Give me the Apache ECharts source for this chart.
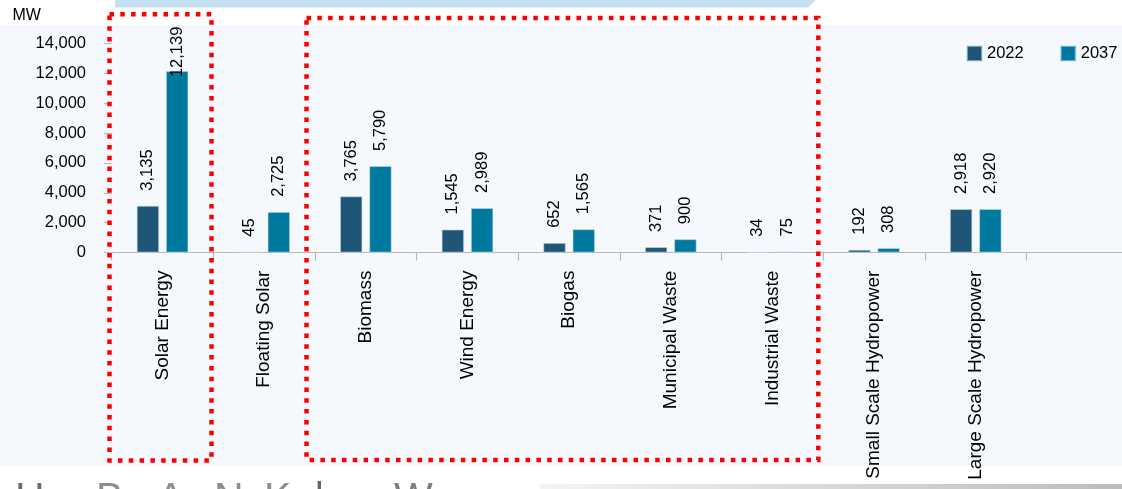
<!DOCTYPE html>
<html>
<head>
<meta charset="utf-8">
<script src="https://cdn.jsdelivr.net/npm/echarts@6/dist/echarts.min.js"></script>
<style>
  html, body { margin: 0; padding: 0; background: #ffffff; }
  #chart { width: 1122px; height: 489px; }
</style>
</head>
<body>
<div id="chart"></div>
<script>
// Installed renewable capacity by technology, MW
const categories = ['Solar Energy', 'Floating Solar', 'Biomass', 'Wind Energy', 'Biogas',
  'Municipal Waste', 'Industrial Waste', 'Small Scale Hydropower', 'Large Scale Hydropower', ''];
const values2022 = [3135, 45, 3765, 1545, 652, 371, 34, 192, 2918, null];
const values2037 = [12139, 2725, 5790, 2989, 1565, 900, 75, 308, 2920, null];
const seriesNames = ['2022', '2037'];
const yTicks = { min: 0, max: 14000, interval: 2000 };
const unitLabel = 'MW';
const footerLetters = ['H', 'B', 'A', 'N', 'K', '|', 'W'];

const FONT = '"Liberation Sans", Arial, sans-serif';
const fmt = v => (v == null ? '' : Number(v).toLocaleString('en-US'));

const chart = echarts.init(document.getElementById('chart'), null, { renderer: 'canvas' });

// Label settings shared by both series; the tallest bar keeps its label inside the plot
const barLabel = {
  show: true, position: 'top', rotate: 90, align: 'left', verticalAlign: 'middle',
  distance: 15, color: '#000', fontSize: 16.5, fontFamily: FONT,
  formatter: p => fmt(p.value)
};
function toData(arr) {
  const peak = Math.max(...arr.filter(v => v != null));
  return arr.map(v => (v === peak && v > 10000) ? { value: v, label: { distance: -6 } } : v);
}

const footerX = [15, 96, 157, 214, 264, 314, 394];
const footerColors = ['#6c6c6c', '#8e8e8e', '#8e8e8e', '#8e8e8e', '#8e8e8e', '#666666', '#7e7e7e'];

// Dotted highlight frames
function dottedFrame(x1, y1, x2, y2) {
  return {
    type: 'rect', z: 100, silent: true,
    shape: { x: x1, y: y1, width: x2 - x1, height: y2 - y1 },
    style: { fill: 'none', stroke: '#ff0000', lineWidth: 4.5, lineDash: [4.5, 6.3], lineCap: 'butt' }
  };
}

const option = {
  backgroundColor: '#ffffff',
  animation: false,
  textStyle: { fontFamily: FONT },
  legend: {
    data: seriesNames,
    orient: 'horizontal',
    left: 966, top: 45, padding: 0,
    itemWidth: 15, itemHeight: 15, itemGap: 36,
    icon: 'rect',
    textStyle: { color: '#000', fontSize: 16.5, fontFamily: FONT }
  },
  grid: { left: 111.7, top: 43.3, width: 1016.5, height: 209.3, outerBoundsMode: 'none', containLabel: false },
  xAxis: {
    type: 'category',
    data: categories,
    axisLine: { show: true, lineStyle: { color: '#b9b9b9', width: 1.2 } },
    axisTick: { show: true, length: 8, lineStyle: { color: '#b9b9b9', width: 1.2 } },
    axisLabel: { interval: 0, rotate: 90, margin: 18, color: '#000', fontSize: 19, fontFamily: FONT }
  },
  yAxis: {
    type: 'value',
    min: yTicks.min, max: yTicks.max, interval: yTicks.interval,
    axisLine: { show: false },
    axisTick: { show: true, length: 8, lineStyle: { color: '#b9b9b9', width: 1.2 } },
    splitLine: { show: false },
    axisLabel: { margin: 25.7, color: '#000', fontSize: 16.5, fontFamily: FONT, formatter: v => fmt(v) }
  },
  series: [
    {
      name: seriesNames[0], type: 'bar', data: toData(values2022),
      barWidth: 22.5, barGap: '30%',
      itemStyle: { color: '#1f5577', borderColor: 'rgba(200,220,235,0.55)', borderWidth: 1 },
      label: barLabel
    },
    {
      name: seriesNames[1], type: 'bar', data: toData(values2037),
      barWidth: 22.5, barGap: '30%',
      itemStyle: { color: '#00799e', borderColor: 'rgba(200,220,235,0.55)', borderWidth: 1 },
      label: barLabel
    }
  ],
  graphic: [
    // pale panel behind the plot
    { type: 'rect', z: -10, silent: true, shape: { x: 0, y: 25, width: 1122, height: 441 }, style: { fill: '#f5f9fd' } },
    // header strip
    { type: 'polygon', z: -10, silent: true,
      shape: { points: [[115, 0], [816, 0], [808, 7.4], [115, 7.4]] }, style: { fill: '#c4e0f1' } },
    // footer rule
    { type: 'rect', z: -10, silent: true, shape: { x: 540, y: 484, width: 582, height: 5 },
      style: { fill: new echarts.graphic.LinearGradient(0, 0, 1, 0, [
        { offset: 0, color: '#f4f4f4' }, { offset: 1, color: '#bcbcbc' }]) } },
    // unit label
    { type: 'text', z: 50, left: 12.5, top: 8,
      style: { text: unitLabel, fill: '#000', font: '16px ' + FONT } },
    dottedFrame(109.5, 14.3, 211.5, 460.5),
    dottedFrame(306.5, 18, 818.3, 460),
    ...footerLetters.map((ch, i) => ({
      type: 'text', z: 50, silent: true, x: footerX[i], y: 479,
      style: { text: ch, fill: footerColors[i], font: '41px ' + FONT, textVerticalAlign: 'top' }
    }))
  ]
};

chart.setOption(option);
</script>
</body>
</html>
